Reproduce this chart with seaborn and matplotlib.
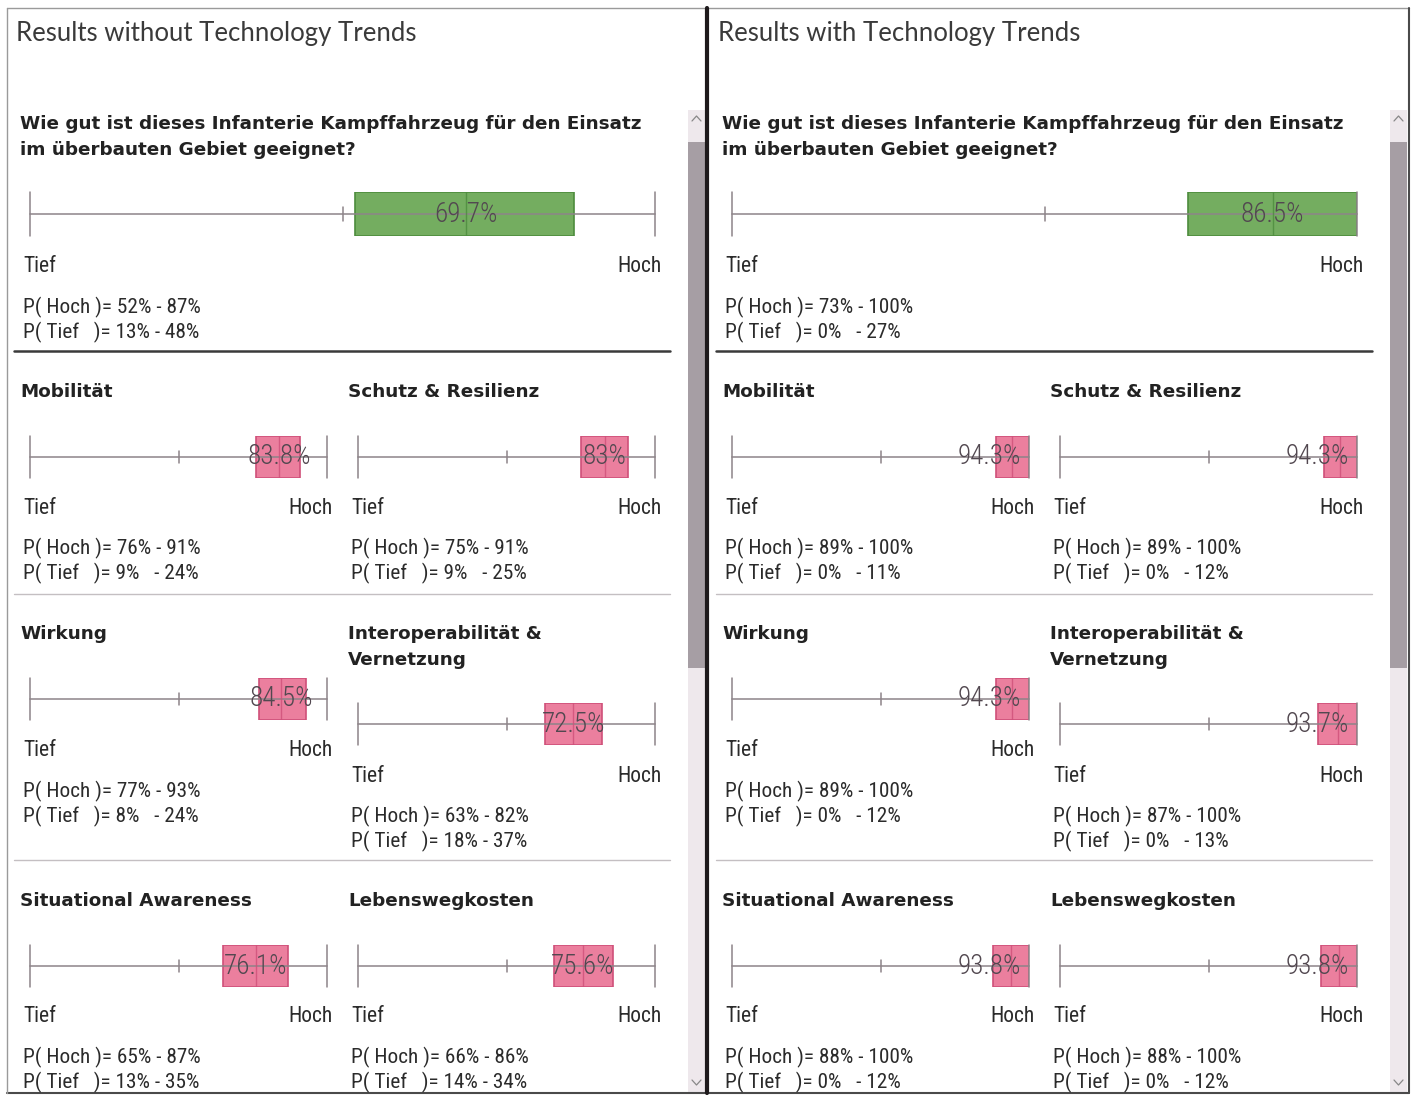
import matplotlib
matplotlib.use("Agg")
import matplotlib.pyplot as plt
import seaborn as sns
from matplotlib.lines import Line2D
from matplotlib.patches import Rectangle

# ---- Daten ----
panel_titles = ["Results without Technology Trends", "Results with Technology Trends"]
question = "Wie gut ist dieses Infanterie Kampffahrzeug für den Einsatz\nim überbauten Gebiet geeignet?"

main_mean = [69.7, 86.5]
main_hoch_lo = [52, 73]
main_hoch_hi = [87, 100]
main_tief_lo = [13, 0]
main_tief_hi = [48, 27]

categories = ["Mobilität", "Schutz & Resilienz", "Wirkung",
              "Interoperabilität &\nVernetzung", "Situational Awareness", "Lebenswegkosten"]

mean_without = [83.8, 83, 84.5, 72.5, 76.1, 75.6]
hoch_lo_without = [76, 75, 77, 63, 65, 66]
hoch_hi_without = [91, 91, 93, 82, 87, 86]
tief_lo_without = [9, 9, 8, 18, 13, 14]
tief_hi_without = [24, 25, 24, 37, 35, 34]

mean_with = [94.3, 94.3, 94.3, 93.7, 93.8, 93.8]
hoch_lo_with = [89, 89, 89, 87, 88, 88]
hoch_hi_with = [100, 100, 100, 100, 100, 100]
tief_lo_with = [0, 0, 0, 0, 0, 0]
tief_hi_with = [11, 12, 12, 13, 12, 12]

# ---- Stil ----
sns.set_theme(style="white")
BODY = ["Roboto Condensed", "Liberation Sans Narrow", "Lato", "DejaVu Sans"]
HEAD = ["DejaVu Sans"]
TITLE = ["Lato", "DejaVu Sans"]
plt.rcParams["font.family"] = BODY

W, H = 1411, 1095
fig = plt.figure(figsize=(W / 100, H / 100), dpi=100)
fig.patch.set_facecolor("white")

LINE_C = "#8d8489"
TXT_C = "#2b2b2b"
GREEN, GREEN_E = "#74ad60", "#4d8c3d"
PINK, PINK_E = "#eb7f9e", "#cf5079"


def fx(x):
    return x / W


def fy(y):
    return 1 - y / H


def hline(x0, x1, y, color, lw):
    fig.add_artist(Line2D([fx(x0), fx(x1)], [fy(y), fy(y)], color=color, lw=lw))


def vline(x, y0, y1, color, lw):
    fig.add_artist(Line2D([fx(x), fx(x)], [fy(y0), fy(y1)], color=color, lw=lw))


def text(x, y, s, **kw):
    kw.setdefault("va", "center")
    kw.setdefault("color", TXT_C)
    fig.text(fx(x), fy(y), s, **kw)


def pct(v):
    return f"{v:g}%"


def bar(x0, x1, yc, half, lo, hi, mean, face, edge, clamp):
    ax = fig.add_axes([fx(x0), fy(yc + half), (x1 - x0) / W, 2 * half / H])
    ax.set_xlim(0, 100)
    ax.set_ylim(-1, 1)
    ax.axis("off")
    ax.barh(0, hi - lo, left=lo, height=2, color=face, edgecolor=edge, lw=1.2, zorder=2)
    ax.plot([0, 100], [0, 0], color=LINE_C, lw=1.3, zorder=3, alpha=0.85, clip_on=False)
    for xv in (0, 100):
        ax.plot([xv, xv], [-1, 1], color=LINE_C, lw=1.1, zorder=3, clip_on=False)
    ax.plot([50, 50], [-0.3, 0.3], color=LINE_C, lw=1.1, zorder=3)
    ax.plot([mean, mean], [-1, 1], color=edge, lw=1.0, zorder=3, alpha=0.8)
    ax.text(min(mean, clamp), 0, pct(mean), ha="center", va="center", fontsize=19.5,
            color="#524850", zorder=4, family=BODY, fontweight="light")


def block(ox, x_head, x_lab, x_b0, x_b1, x_hoch, y_head, y_bar, y_lab, y_p, half,
          title, mean, hlo, hhi, tlo, thi, face, edge, clamp):
    text(ox + x_head, y_head, title, fontsize=13.2, fontweight="bold", family=HEAD,
         linespacing=1.62, color="#222222")
    bar(ox + x_b0, ox + x_b1, y_bar, half, hlo, hhi, mean, face, edge, clamp)
    text(ox + x_lab, y_lab, "Tief", fontsize=15.5)
    text(ox + x_hoch, y_lab, "Hoch", fontsize=15.5, ha="right")
    lo_s = pct(tlo) if tlo >= 10 else pct(tlo) + "  "
    text(ox + x_lab, y_p, f"P( Hoch )= {pct(hlo)} - {pct(hhi)}", fontsize=15.3)
    text(ox + x_lab, y_p + 25.5, f"P( Tief   )= {lo_s} - {pct(thi)}", fontsize=15.3)


# Spalten (x) und Zeilen (y) der Unterdiagramme
col_head = [20, 348]
col_lab = [23, 351]
col_b0 = [30, 358]
col_b1 = [327, 655]
col_hoch = [333, 662]
sub_rows = [(392, 457, 509, 548), (392, 457, 509, 548),
            (634, 699, 750, 791), (647, 724, 776, 816),
            (901, 966, 1017, 1057), (901, 966, 1017, 1057)]

panels = [
    (0, mean_without, hoch_lo_without, hoch_hi_without, tief_lo_without, tief_hi_without),
    (702, mean_with, hoch_lo_with, hoch_hi_with, tief_lo_with, tief_hi_with),
]

for p, (ox, means, hlo, hhi, tlo, thi) in enumerate(panels):
    text(ox + 16, 34, panel_titles[p], fontsize=18.5, family=TITLE, color="#3a3a3a")
    block(ox, 20, 23, 30, 655, 662, 137, 214, 266, 307, 22, question,
          main_mean[p], main_hoch_lo[p], main_hoch_hi[p], main_tief_lo[p], main_tief_hi[p],
          GREEN, GREEN_E, 95)
    for i, cat in enumerate(categories):
        c = i % 2
        yh, yb, yl, yp = sub_rows[i]
        block(ox, col_head[c], col_lab[c], col_b0[c], col_b1[c], col_hoch[c],
              yh, yb, yl, yp, 21, cat, means[i], hlo[i], hhi[i], tlo[i], thi[i],
              PINK, PINK_E, 86.5)
    # Trennlinien
    hline(ox + 14, ox + 670, 351, "#3a3a3a", 1.8)
    hline(ox + 14, ox + 670, 594, "#c4bfc2", 1.0)
    hline(ox + 14, ox + 670, 860, "#c4bfc2", 1.0)
    # Scrollbar
    sx = ox + 688
    fig.add_artist(Rectangle((fx(sx), fy(1092)), 17 / W, (1092 - 110) / H,
                             facecolor="#eee8ec", edgecolor="none"))
    fig.add_artist(Rectangle((fx(sx), fy(668)), 17 / W, (668 - 142) / H,
                             facecolor="#a69ea4", edgecolor="none"))
    fig.add_artist(Line2D([fx(sx + 4), fx(sx + 8.5), fx(sx + 13)], [fy(121), fy(116), fy(121)],
                          color="#888", lw=0.9))
    fig.add_artist(Line2D([fx(sx + 4), fx(sx + 8.5), fx(sx + 13)], [fy(1080), fy(1085), fy(1080)],
                          color="#888", lw=0.9))

# Rahmen
hline(7, 1409, 8, "#9a9a9a", 1.0)
hline(7, 1409, 1093, "#4a4a4a", 1.5)
vline(7, 8, 1093, "#9a9a9a", 1.0)
vline(1409, 8, 1093, "#4a4a4a", 1.5)
vline(707.5, 8, 1093, "#1e1a1c", 3.0)

fig.savefig("out.png", dpi=100, facecolor="white")
